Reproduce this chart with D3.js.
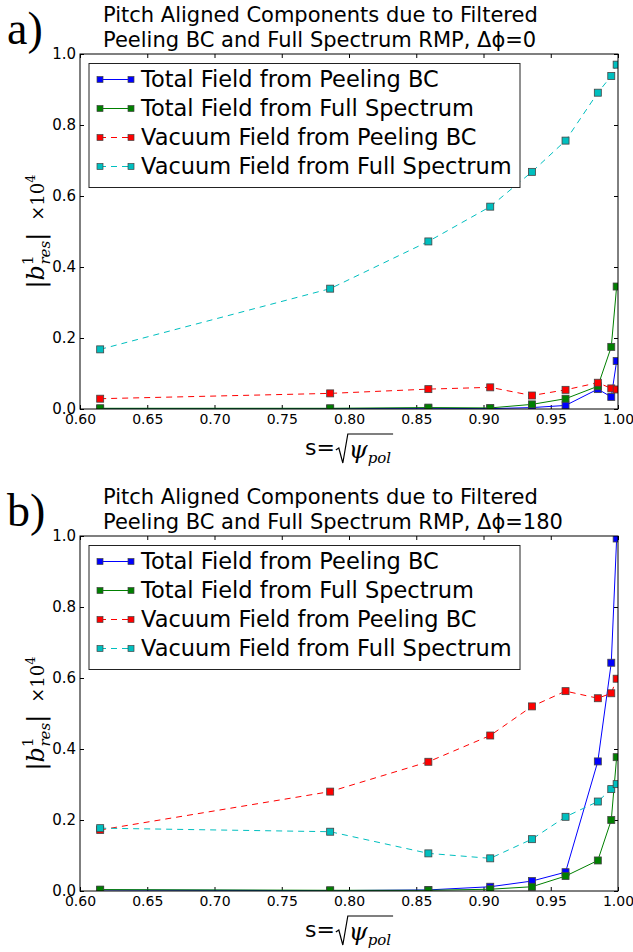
<!DOCTYPE html>
<html lang="en">
<head>
<meta charset="utf-8"/>
<title>Pitch aligned components</title>
<script src="https://d3js.org/d3.v7.min.js"></script>
<style>
  body { margin: 0; background: #fff; }
  svg text { font-family: "DejaVu Sans", sans-serif; }
</style>
</head>
<body>
<svg id="fig" width="633" height="952"></svg>
<script>
// s = sqrt(psi_pol), same radial points for every curve
const sVals = [0.615, 0.786, 0.859, 0.905, 0.936, 0.961, 0.985, 0.995, 0.999];

// panel a) delta phi = 0
const totalPeelingA = [0.001, 0.001, 0.002, 0.001, 0.004, 0.010, 0.056, 0.034, 0.135];
const totalFullA    = [0.002, 0.002, 0.004, 0.003, 0.013, 0.029, 0.064, 0.175, 0.345];
const vacPeelingA   = [0.029, 0.044, 0.056, 0.061, 0.038, 0.054, 0.074, 0.058, 0.055];
const vacFullA      = [0.168, 0.339, 0.472, 0.570, 0.668, 0.756, 0.891, 0.938, 0.970];

// panel b) delta phi = 180
const totalPeelingB = [0.003, 0.001, 0.003, 0.012, 0.028, 0.053, 0.365, 0.643, 0.993];
const totalFullB    = [0.004, 0.002, 0.002, 0.005, 0.012, 0.042, 0.086, 0.200, 0.377];
const vacPeelingB   = [0.172, 0.280, 0.364, 0.438, 0.520, 0.563, 0.543, 0.557, 0.598];
const vacFullB      = [0.177, 0.167, 0.106, 0.092, 0.146, 0.209, 0.252, 0.287, 0.301];

const seriesNames = ["Total Field from Peeling BC", "Total Field from Full Spectrum",
                     "Vacuum Field from Peeling BC", "Vacuum Field from Full Spectrum"];
const xTicks = [0.60, 0.65, 0.70, 0.75, 0.80, 0.85, 0.90, 0.95, 1.00];
const yTicks = [0.0, 0.2, 0.4, 0.6, 0.8, 1.0];

const colors = ["#0000ff", "#008000", "#ff0000", "#00bfbf"];
const dashed = [false, false, true, true];
const serif = '"DejaVu Serif", serif';

const svg = d3.select("#fig");
svg.append("rect").attr("width", 633).attr("height", 952).attr("fill", "#fff");

const left = 80, right = 618;

function drawPanel(p) {
  const top = p.top, bottom = p.top + 355;
  const g = svg.append("g");
  const x = d3.scaleLinear().domain([0.6, 1.0]).range([left, right]);
  const y = d3.scaleLinear().domain([0, 1]).range([bottom, top]);

  // titles
  g.append("text").attr("x", 7).attr("y", top - 10)
    .style("font-family", '"Liberation Serif", serif').style("font-size", "46px")
    .text(p.letter);
  p.title.forEach((line, i) => {
    g.append("text").attr("x", 103).attr("y", top - 32 + i * 25)
      .style("font-size", "21px").text(line);
  });

  // axes: inward ticks on all four sides
  const bx = g.append("g").attr("transform", `translate(0,${bottom})`)
    .call(d3.axisBottom(x).tickValues(xTicks).tickFormat(d3.format(".2f"))
      .tickSizeInner(-4).tickSizeOuter(0).tickPadding(5));
  const lx = g.append("g").attr("transform", `translate(${left},0)`)
    .call(d3.axisLeft(y).tickValues(yTicks).tickFormat(d3.format(".1f"))
      .tickSizeInner(-4).tickSizeOuter(0).tickPadding(4));
  const tx = g.append("g").attr("transform", `translate(0,${top})`)
    .call(d3.axisTop(x).tickValues(xTicks).tickFormat("").tickSizeInner(-4).tickSizeOuter(0));
  const rx = g.append("g").attr("transform", `translate(${right},0)`)
    .call(d3.axisRight(y).tickValues(yTicks).tickFormat("").tickSizeInner(-4).tickSizeOuter(0));
  [bx, lx, tx, rx].forEach(a => {
    a.select(".domain").remove();
    a.selectAll("text").style("font-size", "15px").style("font-family", '"DejaVu Sans", sans-serif')
      .attr("fill", "#000");
  });
  bx.selectAll("text").style("font-size", "14px");

  // data
  const clipId = "clip" + p.letter[0];
  g.append("clipPath").attr("id", clipId).append("rect")
    .attr("x", left).attr("y", top).attr("width", right - left).attr("height", bottom - top);
  const plot = g.append("g").attr("clip-path", `url(#${clipId})`);
  const line = d3.line().x((d, i) => x(sVals[i])).y(d => y(d));
  p.series.forEach((vals, k) => {
    const sg = plot.append("g");
    sg.append("path").datum(vals).attr("d", line)
      .attr("fill", "none").attr("stroke", colors[k]).attr("stroke-width", 1)
      .attr("stroke-dasharray", dashed[k] ? "6,5" : null);
    sg.selectAll("rect").data(vals).join("rect")
      .attr("x", (d, i) => x(sVals[i]) - 3.5).attr("y", d => y(d) - 3.5)
      .attr("width", 7).attr("height", 7)
      .attr("fill", colors[k]).attr("stroke", "#444").attr("stroke-width", 0.8);
  });

  // frame
  g.append("rect").attr("x", left).attr("y", top).attr("width", right - left)
    .attr("height", bottom - top).attr("fill", "none").attr("stroke", "#000");

  // legend
  const lg = g.append("g").attr("transform", `translate(${left + 9},${top + 9.5})`);
  lg.append("rect").attr("width", 431).attr("height", 124)
    .attr("fill", "#fff").attr("stroke", "#222");
  seriesNames.forEach((name, k) => {
    const ry = 16 + k * 29;
    lg.append("line").attr("x1", 11).attr("x2", 42).attr("y1", ry).attr("y2", ry)
      .attr("stroke", colors[k]).attr("stroke-dasharray", dashed[k] ? "6,5" : null);
    [11, 42].forEach(mx => {
      lg.append("rect").attr("x", mx - 3).attr("y", ry - 3).attr("width", 6).attr("height", 6)
        .attr("fill", colors[k]).attr("stroke", "#444").attr("stroke-width", 0.7);
    });
    lg.append("text").attr("x", 52).attr("y", ry).attr("dy", "0.35em")
      .style("font-size", "22.5px").text(name);
  });

  // y label |b^1_res| x10^4
  const yl = g.append("text")
    .attr("transform", `translate(44,${(top + bottom) / 2}) rotate(-90)`)
    .attr("text-anchor", "middle").style("font-family", serif);
  yl.append("tspan").text("|").style("font-size", "24px");
  yl.append("tspan").text("b").style("font-style", "italic").style("font-size", "24px");
  yl.append("tspan").text("1").style("font-size", "15px").attr("dy", -11);
  yl.append("tspan").text("res").style("font-style", "italic").style("font-size", "15px")
    .attr("dx", -9).attr("dy", 17);
  yl.append("tspan").text("|").style("font-size", "24px").attr("dy", -6);
  yl.append("tspan").text("\u00d710").style("font-size", "18px").attr("dx", 12);
  yl.append("tspan").text("4").style("font-size", "13px").attr("dy", -9);

  // x label s = sqrt(psi_pol)
  const xl = g.append("g");
  const base = bottom + 46;
  const sEq = xl.append("text").attr("y", base).style("font-size", "22px").text("s=");
  const w0 = sEq.node().getComputedTextLength();
  const psi = xl.append("text").attr("x", w0 + 14).attr("y", base + 3)
    .style("font-family", serif).style("font-style", "italic").style("font-size", "24px");
  psi.append("tspan").text("\u03c8");
  psi.append("tspan").text("pol").style("font-size", "15px").attr("dy", 5);
  const wEnd = w0 + 14 + psi.node().getComputedTextLength() + 2;
  const b = base + 3, x0 = w0 + 1;
  xl.append("path")
    .attr("d", `M${x0},${b - 8} L${x0 + 3},${b - 10} L${x0 + 7},${b + 5} L${x0 + 12},${b - 24} H${wEnd}`)
    .attr("fill", "none").attr("stroke", "#000").attr("stroke-width", 1.2);
  xl.attr("transform", `translate(${(left + right) / 2 - wEnd / 2},0)`);
}

drawPanel({
  top: 54, letter: "a)",
  title: ["Pitch Aligned Components due to Filtered", "Peeling BC and Full Spectrum RMP, \u0394\u03d5=0"],
  series: [totalPeelingA, totalFullA, vacPeelingA, vacFullA]
});
drawPanel({
  top: 536, letter: "b)",
  title: ["Pitch Aligned Components due to Filtered", "Peeling BC and Full Spectrum RMP, \u0394\u03d5=180"],
  series: [totalPeelingB, totalFullB, vacPeelingB, vacFullB]
});
</script>
</body>
</html>
